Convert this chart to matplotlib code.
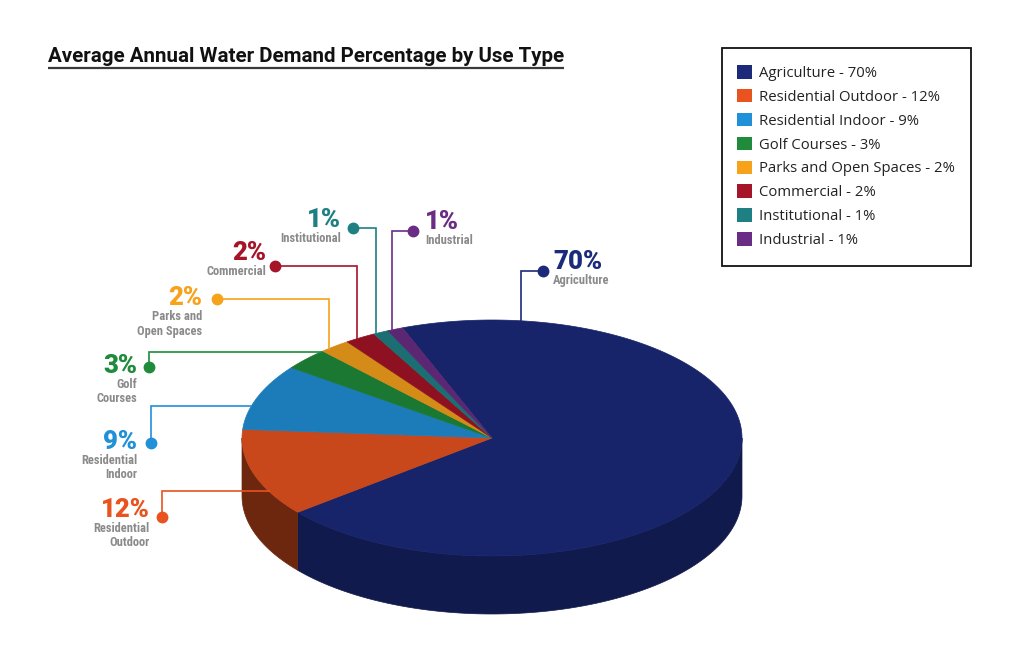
import numpy as np
import matplotlib
matplotlib.use('Agg')
import matplotlib.pyplot as plt
from matplotlib import font_manager
from matplotlib.colors import to_rgb
from matplotlib.patches import Polygon, Patch, Rectangle

# data
categories = ['Agriculture', 'Residential Outdoor', 'Residential Indoor', 'Golf Courses',
              'Parks and Open Spaces', 'Commercial', 'Institutional', 'Industrial']
percent = [70, 12, 9, 3, 2, 2, 1, 1]
short_labels = ['Agriculture', 'Residential\nOutdoor', 'Residential\nIndoor', 'Golf\nCourses',
                'Parks and\nOpen Spaces', 'Commercial', 'Institutional', 'Industrial']
title = 'Average Annual Water Demand Percentage by Use Type'

# style
colors = ['#1b2a7a', '#e8531f', '#2090d8', '#1f8b3b', '#f7a21b', '#a51428', '#1f8083', '#6a2d86']
side_shade = [0.62, 0.47, 0.5, 0.5, 0.5, 0.5, 0.5, 0.5]

# label layout (pixel space): dot, percent text anchor, leader style
dot_xy = [(543, 271), (162, 517), (151, 443), (149, 367), (217, 299), (275, 266), (353, 228), (413, 231)]
pct_xy = [(553, 269), (150, 517), (137, 449), (137, 373), (202, 305), (266, 260), (341, 227), (425, 229)]
pct_ha = ['left', 'right', 'right', 'right', 'right', 'right', 'right', 'left']
leader = ['v', 'h', 'h', 'h', 'v', 'v', 'v', 'v']
anchor_frac = [0.11, 0.28, 0.35, 0.95, 0.26, 0.375, 0.15, 0.28]

# fonts
names = {f.name for f in font_manager.fontManager.ttflist}


def pick(*cands):
    for c in cands:
        if c in names:
            return c
    return 'DejaVu Sans'


main_font = pick('Roboto', 'Open Sans', 'DejaVu Sans')
legend_font = pick('Open Sans', 'Lato', 'Roboto')
narrow_font = pick('Roboto Condensed', 'Liberation Sans Narrow', 'Open Sans Condensed')
narrow_ok = narrow_font != 'DejaVu Sans'
if not narrow_ok:
    narrow_font = main_font
rob_w = {f.weight for f in font_manager.fontManager.ttflist if f.name == main_font}
heavy = 900 if 900 in rob_w else 'bold'

fig = plt.figure(figsize=(10.24, 6.64), dpi=100)
ax = fig.add_axes([0, 0, 1, 1])
ax.set_xlim(0, 1024)
ax.set_ylim(664, 0)
ax.axis('off')

# 3d pie geometry
cx, cy, rx, ry, depth = 492, 438, 250, 118, 58
start = 111.0


def pt(t, r=1.0):
    t = np.radians(t)
    return cx + r * rx * np.cos(t), cy - r * ry * np.sin(t)


sweeps = 360.0 * np.array(percent) / sum(percent)
starts = start - np.concatenate([[0], np.cumsum(sweeps)[:-1]])
ends = starts - sweeps

# side walls (front half only)
for s, e, c, f in zip(starts, ends, colors, side_shade):
    col = np.clip(np.array(to_rgb(c)) * f, 0, 1)
    for k in (-1, 0, 1):
        lo = max(e, 180 + 360 * k)
        hi = min(s, 360 + 360 * k)
        if lo >= hi:
            continue
        tt = np.linspace(lo, hi, int(hi - lo) + 2)
        xs, ys = pt(tt)
        verts = list(zip(xs, ys)) + list(zip(xs[::-1], ys[::-1] + depth))
        ax.add_patch(Polygon(verts, closed=True, facecolor=col, edgecolor=col, lw=0.5, zorder=2))

# top surface
for s, e, c in zip(starts, ends, colors):
    tt = np.linspace(s, e, max(4, int(abs(s - e)) + 2))
    xs, ys = pt(tt)
    verts = [(cx, cy)] + list(zip(xs, ys))
    col = np.clip(np.array(to_rgb(c)) * 0.86, 0, 1)
    ax.add_patch(Polygon(verts, closed=True, facecolor=col, edgecolor=col, lw=0.5, zorder=3))

# leader lines, dots and labels
for i, cat in enumerate(categories):
    c = colors[i]
    ta = starts[i] - anchor_frac[i] * sweeps[i]
    axp, ayp = pt(ta)
    dx, dy = dot_xy[i]
    if leader[i] == 'v':
        px = [axp, axp, dx]
        py = [ayp, dy, dy]
    else:
        px = [axp, dx, dx]
        py = [ayp, ayp, dy]
    ax.plot(px, py, color=c, lw=1.2, zorder=4, solid_joinstyle='miter')
    ax.plot(dx, dy, 'o', color=c, ms=7.5, zorder=5)
    tx, ty = pct_xy[i]
    ax.text(tx, ty, f'{percent[i]}%', ha=pct_ha[i], va='baseline', color=c,
            fontsize=18.5, fontweight=heavy, family=main_font, zorder=6)
    ax.text(tx, ty + 5, short_labels[i], ha=pct_ha[i], va='top', multialignment=pct_ha[i],
            color='#8a8a8a', fontsize=9 if narrow_ok else 7.5, fontweight='bold',
            family=narrow_font, linespacing=1.15, zorder=6)

# title with underline
ttl = ax.text(48, 62, title, ha='left', va='baseline', fontsize=14.8, fontweight='bold',
              family=main_font, color='#111111')
fig.canvas.draw()
bb = ttl.get_window_extent().transformed(ax.transData.inverted())
ax.plot([48, bb.x1], [68, 68], color='#3a3a3a', lw=1.6, solid_capstyle='butt')

# legend
ax.add_patch(Rectangle((722, 48), 249, 218, facecolor='white', edgecolor='#111111', lw=1.3, zorder=1))
handles = [Patch(facecolor=c, edgecolor='none', label=f'{cat} - {p}%')
           for cat, p, c in zip(categories, percent, colors)]
leg = ax.legend(handles=handles, loc='upper left', bbox_to_anchor=(737 / 1024, 1 - 65 / 664),
                bbox_transform=fig.transFigure, frameon=False, borderpad=0, borderaxespad=0,
                handlelength=1.03, handleheight=1.03, handletextpad=0.45, labelspacing=0.54,
                prop={'family': legend_font, 'size': 10.7})
for t in leg.get_texts():
    t.set_color('#222222')

fig.savefig('out.png', dpi=100)
